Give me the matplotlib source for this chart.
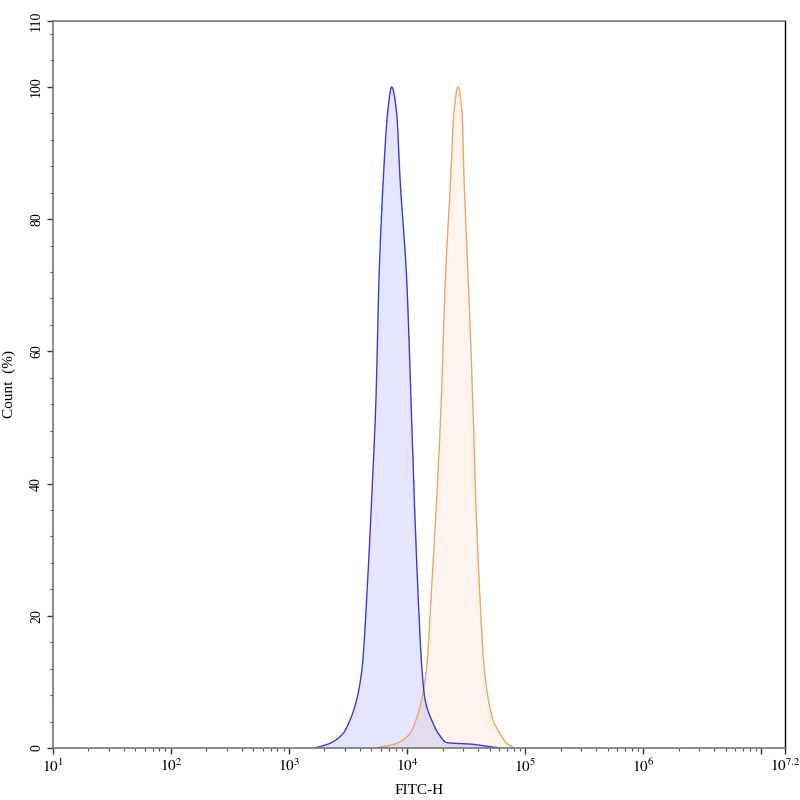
import matplotlib
matplotlib.use("Agg")
import matplotlib.pyplot as plt
import numpy as np

plt.rcParams['font.family'] = ['Liberation Serif', 'DejaVu Serif']
plt.rcParams['mathtext.fontset'] = 'stix'

# values (FITC-H, count %)
blue_x = [1660, 2220, 2880, 3290, 3750, 4180, 4550, 5020, 5460, 5790, 6300, 6860, 7420,
          8160, 8730, 9940, 10810, 11530, 12470, 13330, 14220, 16200, 18410, 21830,
          34200, 50500, 61400]
blue_y = [0, 0.7, 2.2, 4.2, 7.3, 12.3, 22.4, 37.6, 52.7, 70.9, 86.1, 96.2, 100,
          96.2, 86.1, 70.9, 52.7, 37.6, 22.4, 12.3, 7.3, 4.2, 2.2, 0.8,
          0.6, 0.2, 0]

orange_x = [5360, 8180, 10600, 11910, 13330, 14700, 15970, 17850, 19540, 21130, 23470,
            25000, 27040, 29250, 30410, 33060, 36030, 38200, 41570, 44950, 48900,
            53570, 61400, 70000, 82000]
orange_y = [0, 0.7, 2.2, 4.2, 7.3, 12.3, 22.4, 37.6, 52.7, 70.9, 86.1,
            96.2, 100, 96.2, 86.1, 70.9, 52.7, 37.6, 22.4, 12.3, 7.3,
            4.2, 2.2, 0.7, 0]

x_major = [1, 2, 3, 4, 5, 6, 7, 7.2]
x_labels = ['$10^{1}$', '$10^{2}$', '$10^{3}$', '$10^{4}$', '$10^{5}$', '$10^{6}$', '', '$10^{7.2}$']
y_major = [0, 20, 40, 60, 80, 100, 110]


def pchip(xs, ys, n=600):
    # monotone cubic through the read points, in log-x space
    x = np.log10(np.asarray(xs, float))
    y = np.asarray(ys, float)
    h = np.diff(x)
    d = np.diff(y) / h
    m = np.zeros_like(y)
    for k in range(1, len(y) - 1):
        if d[k - 1] * d[k] > 0:
            w1 = 2 * h[k] + h[k - 1]
            w2 = h[k] + 2 * h[k - 1]
            m[k] = (w1 + w2) / (w1 / d[k - 1] + w2 / d[k])
    m[0] = d[0]
    m[-1] = d[-1]
    grid = np.linspace(x[0], x[-1], n)
    idx = np.clip(np.searchsorted(x, grid) - 1, 0, len(h) - 1)
    t = (grid - x[idx]) / h[idx]
    h00 = 2 * t**3 - 3 * t**2 + 1
    h10 = t**3 - 2 * t**2 + t
    h01 = -2 * t**3 + 3 * t**2
    h11 = t**3 - t**2
    out = h00 * y[idx] + h10 * h[idx] * m[idx] + h01 * y[idx + 1] + h11 * h[idx] * m[idx + 1]
    return 10 ** grid, np.clip(out, 0, None)


fig = plt.figure(figsize=(8, 8), dpi=100)
ax = fig.add_axes([0.066, 0.065, 0.915, 0.909])

bx, by = pchip(blue_x, blue_y)
ox, oy = pchip(orange_x, orange_y)

ax.fill_between(ox, oy, 0, color=(0.95, 0.55, 0.15), alpha=0.08, lw=0)
ax.plot(ox, oy, color='#f0a468', lw=1.0)
ax.fill_between(bx, by, 0, color=(0.0, 0.0, 1.0), alpha=0.1, lw=0)
ax.plot(bx, by, color='#3a3ad8', lw=1.0)

ax.set_xscale('log')
ax.set_xlim(10 ** 1, 10 ** 7.2)
ax.set_ylim(0, 110)

ax.set_xticks([10 ** v for v in x_major])
ax.set_xticklabels(x_labels, fontsize=11)
minor = [m * 10 ** d for d in range(1, 8) for m in range(2, 10) if m * 10 ** d < 10 ** 7.2]
ax.set_xticks(minor, minor=True)

ax.set_yticks(y_major)
ax.set_yticklabels([str(v) for v in y_major], rotation=90, va='center', fontsize=10)
ax.set_yticks([v for v in range(0, 111, 4) if v % 20 != 0], minor=True)

ax.tick_params(which='major', direction='out', length=4, width=1, color='#333333', pad=3)
ax.tick_params(which='minor', direction='out', length=2, width=0.8, color='#555555')

for side in ['left', 'bottom', 'top']:
    ax.spines[side].set_color('#777777')
    ax.spines[side].set_linewidth(1.2)
ax.spines['right'].set_color('black')
ax.spines['right'].set_linewidth(1.0)

ax.set_xlabel('FITC-H', fontsize=11, labelpad=6)
ax.set_ylabel('Count  (%)', fontsize=11, labelpad=10)

fig.savefig('out.png', dpi=100)
